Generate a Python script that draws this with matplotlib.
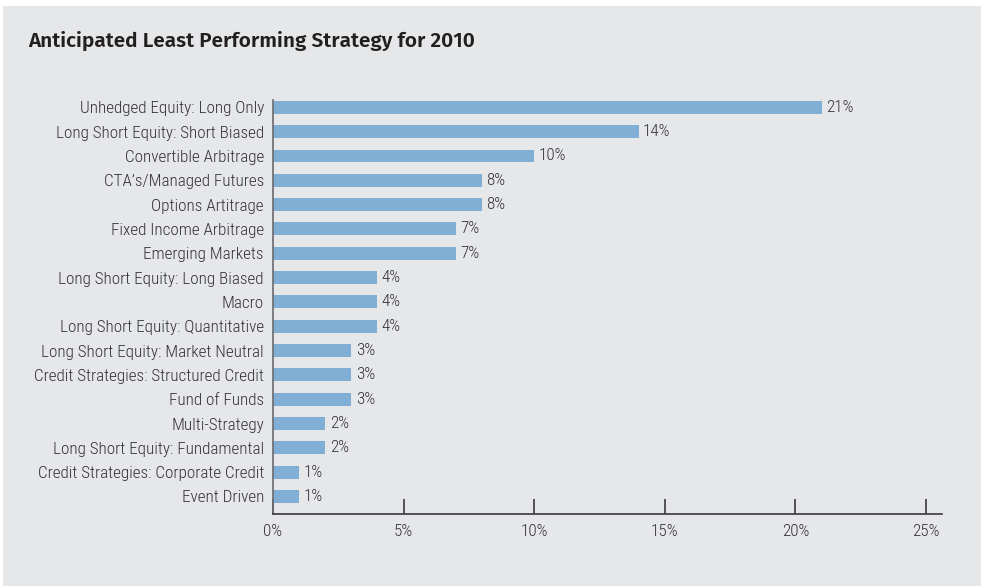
import matplotlib
matplotlib.use("Agg")
import matplotlib.pyplot as plt
from matplotlib import font_manager
from matplotlib.patches import Rectangle

# Strategy names and their share of respondents (%)
strategies = [
    "Unhedged Equity: Long Only",
    "Long Short Equity: Short Biased",
    "Convertible Arbitrage",
    "CTA’s/Managed Futures",
    "Options Artitrage",
    "Fixed Income Arbitrage",
    "Emerging Markets",
    "Long Short Equity: Long Biased",
    "Macro",
    "Long Short Equity: Quantitative",
    "Long Short Equity: Market Neutral",
    "Credit Strategies: Structured Credit",
    "Fund of Funds",
    "Multi-Strategy",
    "Long Short Equity: Fundamental",
    "Credit Strategies: Corporate Credit",
    "Event Driven",
]
shares = [21, 14, 10, 8, 8, 7, 7, 4, 4, 4, 3, 3, 3, 2, 2, 1, 1]
tick_values = [0, 5, 10, 15, 20, 25]
tick_labels = ["0%", "5%", "10%", "15%", "20%", "25%"]
title = "Anticipated Least Performing Strategy for 2010"


def first_installed(candidates):
    available = {f.name for f in font_manager.fontManager.ttflist}
    for name in candidates:
        if name in available:
            return name
    return "DejaVu Sans"


narrow = first_installed(["Roboto Condensed", "Fira Sans Condensed", "PT Sans Narrow", "Asap Condensed"])
bold_family = first_installed(["Fira Sans", "Open Sans", "DejaVu Sans"])

BG = "#e6e7e9"
BAR = "#80aed4"
TXT = "#333335"
AX = "#3a3a3c"

W, H = 982, 586
fig = plt.figure(figsize=(W / 100, H / 100), dpi=100)
fig.patch.set_facecolor("white")
fig.add_artist(Rectangle((3 / W, 0), (981 - 3) / W, (586 - 6) / H,
                         transform=fig.transFigure, facecolor=BG,
                         edgecolor="none", zorder=0))
renderer = fig.canvas.get_renderer()


def fit_size(text, family, weight, target_px, base=12.0):
    t = fig.text(0, 0, text, fontsize=base, family=family, fontweight=weight)
    w = t.get_window_extent(renderer).width
    t.remove()
    return base * target_px / w


label_size = fit_size("Credit Strategies: Structured Credit", narrow, 300, 231)
title_size = fit_size(title, bold_family, 600, 446)

# axes placement in pixels
x0, x1 = 273, 942
y_top, y_bot = 100, 514
ax = fig.add_axes([x0 / W, 1 - y_bot / H, (x1 - x0) / W, (y_bot - y_top) / H])
ax.set_facecolor("none")

n = len(strategies)
ypos = list(range(n))
ax.barh(ypos, shares, height=0.53, color=BAR, zorder=2)
for y, v in zip(ypos, shares):
    ax.text(v + 0.17, y, f"{v}%", va="center", ha="left", fontsize=label_size,
            family=narrow, fontweight=300, color=TXT)

ax.set_ylim(n - 0.5 + 0.22, -0.3)
ax.set_xlim(0, 25 * (x1 - x0) / (926 - x0))
ax.set_yticks(ypos)
ax.set_yticklabels(strategies, family=narrow, fontweight=300,
                   fontsize=label_size, color=TXT)
ax.tick_params(axis="y", length=0, pad=6.5)
ax.set_xticks(tick_values)
ax.set_xticklabels(tick_labels, family=narrow, fontweight=300,
                   fontsize=label_size, color=TXT)
ax.tick_params(axis="x", direction="in", length=11, width=1.2, color=AX, pad=7)

for s in ["top", "right"]:
    ax.spines[s].set_visible(False)
ax.spines["left"].set_color("#6b6b6d")
ax.spines["left"].set_linewidth(1.2)
ax.spines["bottom"].set_color(AX)
ax.spines["bottom"].set_linewidth(1.2)

fig.text(28 / W, 1 - 41 / H, title, fontsize=title_size, fontweight=600,
         family=bold_family, color="#231f20", va="center", ha="left")

fig.savefig("out.png", dpi=100, facecolor=fig.get_facecolor())
